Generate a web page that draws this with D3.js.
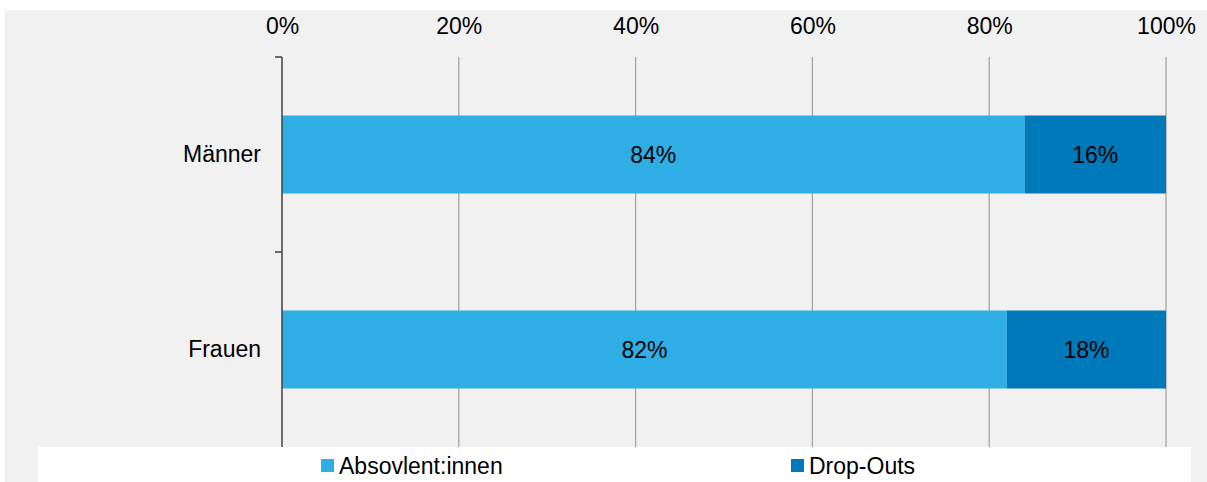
<!DOCTYPE html>
<html>
<head>
<meta charset="utf-8">
<script src="https://cdn.jsdelivr.net/npm/d3@7"></script>
<style>
  html, body { margin: 0; padding: 0; background: #ffffff; }
  svg { display: block; }
  text { font-family: "Liberation Sans", Arial, sans-serif; fill: #000; }
</style>
</head>
<body>
<svg id="chart" width="1207" height="482"></svg>
<script>
// Share of graduates vs. drop-outs by gender (percent)
const categories = ["Männer", "Frauen"];
const absolventen = [84, 82];
const dropOuts = [16, 18];
const seriesNames = ["Absovlent:innen", "Drop-Outs"];
const seriesColors = ["#2eaee5", "#0079ba"];
const tickValues = [0, 20, 40, 60, 80, 100];

const FONT = 23;
const svg = d3.select("#chart");
const W = 1207, H = 482;

// panel background
svg.append("rect").attr("x", 5).attr("y", 10).attr("width", W - 5).attr("height", H - 10).attr("fill", "#f1f1f1");

const plot = { left: 282, right: 1166, top: 57, bottom: 447 };

const x = d3.scaleLinear().domain([0, 100]).range([plot.left, plot.right]);
const y = d3.scaleBand().domain(categories).range([plot.top, plot.bottom]).paddingInner(0.6).paddingOuter(0.3);

// vertical gridlines
svg.append("g").selectAll("line").data(tickValues.slice(1)).join("line")
  .attr("x1", d => x(d)).attr("x2", d => x(d))
  .attr("y1", plot.top).attr("y2", plot.bottom)
  .attr("stroke", "#a6a6a6").attr("stroke-width", 1.3);

// top axis labels
const xAxis = d3.axisTop(x).tickValues(tickValues).tickSize(0).tickPadding(0).tickFormat(d => d + "%");
const gx = svg.append("g").attr("transform", `translate(0,34)`).call(xAxis);
gx.select(".domain").remove();
gx.selectAll("text").attr("font-size", FONT).attr("font-family", "Liberation Sans, Arial, sans-serif").attr("fill", "#000");

// stacked data
const rows = categories.map((c, i) => ({ cat: c, vals: [absolventen[i], dropOuts[i]] }));
const stacked = d3.stack().keys([0, 1]).value((d, k) => d.vals[k])(rows);

const gBars = svg.append("g");
stacked.forEach((layer, k) => {
  const g = gBars.append("g").attr("fill", seriesColors[k]);
  g.selectAll("rect").data(layer).join("rect")
    .attr("x", d => x(d[0]))
    .attr("width", d => x(d[1]) - x(d[0]))
    .attr("y", d => y(d.data.cat))
    .attr("height", y.bandwidth());
  gBars.append("g").selectAll("text").data(layer).join("text")
    .attr("x", d => (x(d[0]) + x(d[1])) / 2)
    .attr("y", d => y(d.data.cat) + y.bandwidth() / 2)
    .attr("dy", "0.35em")
    .attr("text-anchor", "middle")
    .attr("font-size", FONT)
    .text(d => (d[1] - d[0]) + "%");
});

// category axis
const yAxis = d3.axisLeft(y).tickSize(0).tickPadding(21);
const gy = svg.append("g").attr("transform", `translate(${plot.left},0)`).call(yAxis);
gy.select(".domain").remove();
gy.selectAll("text").attr("font-size", FONT).attr("font-family", "Liberation Sans, Arial, sans-serif").attr("fill", "#000");

// axis line with boundary ticks between categories
svg.append("line").attr("x1", plot.left).attr("x2", plot.left).attr("y1", plot.top).attr("y2", plot.bottom)
  .attr("stroke", "#404040").attr("stroke-width", 1.5);
const boundaries = [plot.top, (y(categories[0]) + y.bandwidth() + y(categories[1])) / 2];
svg.append("g").selectAll("line").data(boundaries).join("line")
  .attr("x1", plot.left - 7).attr("x2", plot.left)
  .attr("y1", d => d).attr("y2", d => d)
  .attr("stroke", "#404040").attr("stroke-width", 1.5);

// legend
svg.append("rect").attr("x", 38).attr("y", 447).attr("width", 1153).attr("height", H - 447).attr("fill", "#ffffff");
const legendX = [321, 791];
const lg = svg.append("g").selectAll("g").data(seriesNames).join("g")
  .attr("transform", (d, i) => `translate(${legendX[i]},465.5)`);
lg.append("rect").attr("x", 0).attr("y", -6.5).attr("width", 13).attr("height", 13)
  .attr("fill", (d, i) => seriesColors[i]);
lg.append("text").attr("x", 18).attr("dy", "0.35em").attr("font-size", FONT).text(d => d);
</script>
</body>
</html>
